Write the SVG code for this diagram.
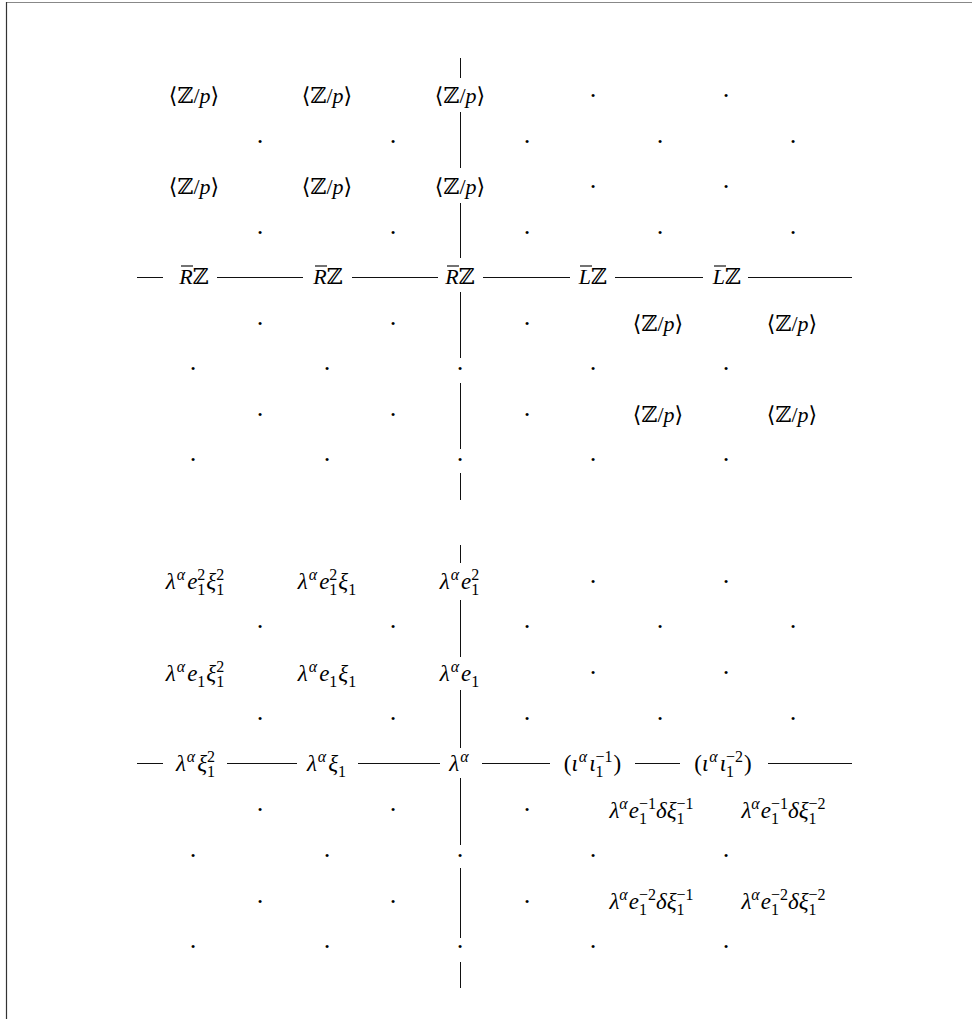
<svg xmlns="http://www.w3.org/2000/svg" width="972" height="1019" viewBox="0 0 972 1019">
<style>
.t{font-family:"Liberation Serif","DejaVu Serif","DejaVu Sans",serif;font-size:22px;fill:#000;text-anchor:middle}
.b{font-size:23px}
.i{font-style:italic}
.s{font-size:16px}
.d{font-family:"Liberation Serif",serif;font-size:26px;fill:#000;text-anchor:middle}
.c{stroke:#111;stroke-width:1;fill:none}
.ov{stroke:#000;stroke-width:1.1}
</style>
<rect x="0" y="0" width="972" height="1019" fill="#fff"/>
<g id="frame">
<line x1="6" y1="2.5" x2="972" y2="2.5" stroke="#888" stroke-width="1"/>
<line x1="6.5" y1="2" x2="6.5" y2="1019" stroke="#333" stroke-width="1.2"/>
</g>
<g id="connectors" class="c">
<path d="M137 277.5H163M217 277.5H303M352 277.5H438M483 277.5H570M615 277.5H703M748 277.5H852"/>
<path d="M460.5 58V78M460.5 112V168M460.5 203V258M460.5 292V358M460.5 383V449M460.5 473V500"/>
<path d="M137 763.5H163M227 763.5H297M358 763.5H440M482 763.5H550M635 763.5H680M768 763.5H852"/>
<path d="M460.5 545V563M460.5 600V657M460.5 690V748M460.5 778V845M460.5 868V938M460.5 962V988"/>
</g>
<g id="top-nodes">
<g id="t00"><text class="t" x="194" y="103">⟨ℤ/<tspan class="i">p</tspan>⟩</text></g>
<g id="t01"><text class="t" x="327" y="103">⟨ℤ/<tspan class="i">p</tspan>⟩</text></g>
<g id="t02"><text class="t" x="460" y="103">⟨ℤ/<tspan class="i">p</tspan>⟩</text></g>
<g id="t10"><text class="t" x="194" y="194">⟨ℤ/<tspan class="i">p</tspan>⟩</text></g>
<g id="t11"><text class="t" x="327" y="194">⟨ℤ/<tspan class="i">p</tspan>⟩</text></g>
<g id="t12"><text class="t" x="460" y="194">⟨ℤ/<tspan class="i">p</tspan>⟩</text></g>
<g id="r0"><text class="t" x="194" y="284"><tspan class="i">R</tspan>ℤ</text><line class="ov" x1="181" y1="266" x2="193" y2="266"/></g>
<g id="r1"><text class="t" x="328" y="284"><tspan class="i">R</tspan>ℤ</text><line class="ov" x1="315" y1="266" x2="327" y2="266"/></g>
<g id="r2"><text class="t" x="460" y="284"><tspan class="i">R</tspan>ℤ</text><line class="ov" x1="447" y1="266" x2="459" y2="266"/></g>
<g id="l0"><text class="t" x="593" y="284"><tspan class="i">L</tspan>ℤ</text><line class="ov" x1="580" y1="266" x2="592" y2="266"/></g>
<g id="l1"><text class="t" x="727" y="284"><tspan class="i">L</tspan>ℤ</text><line class="ov" x1="714" y1="266" x2="726" y2="266"/></g>
<g id="t30"><text class="t" x="658" y="330.5">⟨ℤ/<tspan class="i">p</tspan>⟩</text></g>
<g id="t31"><text class="t" x="792" y="330.5">⟨ℤ/<tspan class="i">p</tspan>⟩</text></g>
<g id="t40"><text class="t" x="658" y="421.5">⟨ℤ/<tspan class="i">p</tspan>⟩</text></g>
<g id="t41"><text class="t" x="792" y="421.5">⟨ℤ/<tspan class="i">p</tspan>⟩</text></g>
</g>
<g id="top-dots" class="d">
<text x="593" y="104">·</text><text x="726" y="104">·</text>
<text x="260" y="149.5">·</text><text x="393" y="149.5">·</text><text x="527" y="149.5">·</text><text x="660" y="149.5">·</text><text x="793" y="149.5">·</text>
<text x="593" y="195">·</text><text x="726" y="195">·</text>
<text x="260" y="240.5">·</text><text x="393" y="240.5">·</text><text x="527" y="240.5">·</text><text x="660" y="240.5">·</text><text x="793" y="240.5">·</text>
<text x="260" y="331.5">·</text><text x="393" y="331.5">·</text><text x="527" y="331.5">·</text>
<text x="193" y="377">·</text><text x="327" y="377">·</text><text x="460" y="377">·</text><text x="593" y="377">·</text><text x="726" y="377">·</text>
<text x="260" y="422.5">·</text><text x="393" y="422.5">·</text><text x="527" y="422.5">·</text>
<text x="193" y="468">·</text><text x="327" y="468">·</text><text x="460" y="468">·</text><text x="593" y="468">·</text><text x="726" y="468">·</text>
</g>
<g id="bottom-nodes">
<g id="b00"><text class="t b" x="195" y="589"><tspan class="i">λ</tspan><tspan class="s i" dy="-9" dx="1">α</tspan><tspan class="i" dy="9" dx="2">e</tspan><tspan class="s" dy="6">1</tspan><tspan class="s" dx="-8" dy="-15">2</tspan><tspan class="i" dy="9" dx="1">ξ</tspan><tspan class="s" dy="6">1</tspan><tspan class="s" dx="-8" dy="-15">2</tspan></text></g>
<g id="b01"><text class="t b" x="327" y="589"><tspan class="i">λ</tspan><tspan class="s i" dy="-9" dx="1">α</tspan><tspan class="i" dy="9" dx="2">e</tspan><tspan class="s" dy="6">1</tspan><tspan class="s" dx="-8" dy="-15">2</tspan><tspan class="i" dy="9" dx="1">ξ</tspan><tspan class="s" dy="6">1</tspan></text></g>
<g id="b02"><text class="t b" x="459.5" y="589"><tspan class="i">λ</tspan><tspan class="s i" dy="-9" dx="1">α</tspan><tspan class="i" dy="9" dx="2">e</tspan><tspan class="s" dy="6">1</tspan><tspan class="s" dx="-8" dy="-15">2</tspan></text></g>
<g id="b10"><text class="t b" x="195" y="680.5"><tspan class="i">λ</tspan><tspan class="s i" dy="-9" dx="1">α</tspan><tspan class="i" dy="9" dx="2">e</tspan><tspan class="s" dy="6">1</tspan><tspan class="i" dy="-6" dx="1">ξ</tspan><tspan class="s" dy="6">1</tspan><tspan class="s" dx="-8" dy="-15">2</tspan></text></g>
<g id="b11"><text class="t b" x="327" y="680.5"><tspan class="i">λ</tspan><tspan class="s i" dy="-9" dx="1">α</tspan><tspan class="i" dy="9" dx="2">e</tspan><tspan class="s" dy="6">1</tspan><tspan class="i" dy="-6" dx="1">ξ</tspan><tspan class="s" dy="6">1</tspan></text></g>
<g id="b12"><text class="t b" x="459.5" y="680.5"><tspan class="i">λ</tspan><tspan class="s i" dy="-9" dx="1">α</tspan><tspan class="i" dy="9" dx="2">e</tspan><tspan class="s" dy="6">1</tspan></text></g>
<g id="b20"><text class="t b" x="195.5" y="771"><tspan class="i">λ</tspan><tspan class="s i" dy="-9" dx="1">α</tspan><tspan class="i" dy="9" dx="2">ξ</tspan><tspan class="s" dy="6">1</tspan><tspan class="s" dx="-8" dy="-15">2</tspan></text></g>
<g id="b21"><text class="t b" x="326.5" y="771"><tspan class="i">λ</tspan><tspan class="s i" dy="-9" dx="1">α</tspan><tspan class="i" dy="9" dx="2">ξ</tspan><tspan class="s" dy="6">1</tspan></text></g>
<g id="b22"><text class="t b" x="459" y="771"><tspan class="i">λ</tspan><tspan class="s i" dy="-9" dx="1">α</tspan></text></g>
<g id="b23"><text class="t b" x="592.5" y="771">(<tspan class="i">ι</tspan><tspan class="s i" dy="-9" dx="1">α</tspan><tspan class="i" dy="9" dx="2">ι</tspan><tspan class="s" dy="6">1</tspan><tspan class="s" dx="-8" dy="-15">−1</tspan><tspan dy="9" dx="1">)</tspan></text></g>
<g id="b24"><text class="t b" x="723" y="771">(<tspan class="i">ι</tspan><tspan class="s i" dy="-9" dx="1">α</tspan><tspan class="i" dy="9" dx="2">ι</tspan><tspan class="s" dy="6">1</tspan><tspan class="s" dx="-8" dy="-15">−2</tspan><tspan dy="9" dx="1">)</tspan></text></g>
<g id="b30"><text class="t b" x="651.5" y="817.5"><tspan class="i">λ</tspan><tspan class="s i" dy="-9">α</tspan><tspan class="i" dy="9" dx="1">e</tspan><tspan class="s" dy="6">1</tspan><tspan class="s" dx="-8" dy="-15">−1</tspan><tspan class="i" dy="9">δξ</tspan><tspan class="s" dy="6">1</tspan><tspan class="s" dx="-8" dy="-15">−1</tspan></text></g>
<g id="b31"><text class="t b" x="783.5" y="817.5"><tspan class="i">λ</tspan><tspan class="s i" dy="-9">α</tspan><tspan class="i" dy="9" dx="1">e</tspan><tspan class="s" dy="6">1</tspan><tspan class="s" dx="-8" dy="-15">−1</tspan><tspan class="i" dy="9">δξ</tspan><tspan class="s" dy="6">1</tspan><tspan class="s" dx="-8" dy="-15">−2</tspan></text></g>
<g id="b40"><text class="t b" x="651.5" y="909"><tspan class="i">λ</tspan><tspan class="s i" dy="-9">α</tspan><tspan class="i" dy="9" dx="1">e</tspan><tspan class="s" dy="6">1</tspan><tspan class="s" dx="-8" dy="-15">−2</tspan><tspan class="i" dy="9">δξ</tspan><tspan class="s" dy="6">1</tspan><tspan class="s" dx="-8" dy="-15">−1</tspan></text></g>
<g id="b41"><text class="t b" x="783.5" y="909"><tspan class="i">λ</tspan><tspan class="s i" dy="-9">α</tspan><tspan class="i" dy="9" dx="1">e</tspan><tspan class="s" dy="6">1</tspan><tspan class="s" dx="-8" dy="-15">−2</tspan><tspan class="i" dy="9">δξ</tspan><tspan class="s" dy="6">1</tspan><tspan class="s" dx="-8" dy="-15">−2</tspan></text></g>
</g>
<g id="bottom-dots" class="d">
<text x="593" y="590">·</text><text x="726" y="590">·</text>
<text x="260" y="635">·</text><text x="393" y="635">·</text><text x="527" y="635">·</text><text x="660" y="635">·</text><text x="793" y="635">·</text>
<text x="593" y="681">·</text><text x="726" y="681">·</text>
<text x="260" y="727">·</text><text x="393" y="727">·</text><text x="527" y="727">·</text><text x="660" y="727">·</text><text x="793" y="727">·</text>
<text x="260" y="818">·</text><text x="393" y="818">·</text><text x="527" y="818">·</text>
<text x="193" y="864">·</text><text x="327" y="864">·</text><text x="460" y="864">·</text><text x="593" y="864">·</text><text x="726" y="864">·</text>
<text x="260" y="909.5">·</text><text x="393" y="909.5">·</text><text x="527" y="909.5">·</text>
<text x="193" y="955">·</text><text x="327" y="955">·</text><text x="460" y="955">·</text><text x="593" y="955">·</text><text x="726" y="955">·</text>
</g>
</svg>
